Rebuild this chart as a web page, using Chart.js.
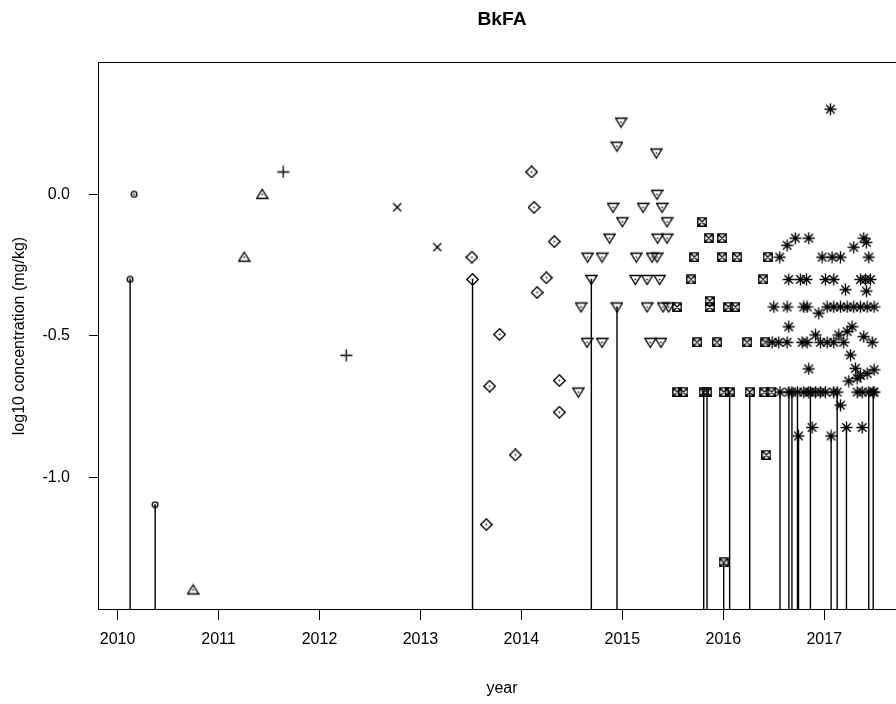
<!DOCTYPE html>
<html>
<head>
<meta charset="utf-8">
<script src="https://cdn.jsdelivr.net/npm/chart.js@4"></script>
<style>
html,body{margin:0;padding:0;overflow:hidden;background:#fff;}
canvas{display:block;}
</style>
</head>
<body>
<canvas id="c" width="920" height="704"></canvas>
<script>
// ---------- DATA ----------
const chartTitle = "BkFA";
const xTitle = "year";
const yTitle = "log10 concentration (mg/kg)";
const xTickValues = [2010, 2011, 2012, 2013, 2014, 2015, 2016, 2017];
const yTickValues = [-1.0, -0.5, 0.0];
const xLimits = [2009.816, 2017.80];
const yLimits = [-1.469, 0.4675];

// group 1: open circle
const circleYears = [2010.124, 2010.164, 2010.372];
const circleVals  = [-0.301, 0.0, -1.097];
const circleCens  = [1, 0, 1];

// group 2: triangle up
const triUpYears = [2010.748, 2011.254, 2011.432];
const triUpVals  = [-1.398, -0.222, 0.0];
const triUpCens  = [0, 0, 0];

// group 3: plus
const plusYears = [2011.640, 2012.265];
const plusVals  = [0.079, -0.569];
const plusCens  = [0, 0];

// group 4: cross
const crossYears = [2012.770, 2013.167];
const crossVals  = [-0.046, -0.187];
const crossCens  = [0, 0];

// group 5: diamond
const diamondYears = [2013.510, 2013.516, 2013.784, 2013.685, 2013.940, 2013.652, 2014.101, 2014.125, 2014.326, 2014.247, 2014.155, 2014.376, 2014.376];
const diamondVals  = [-0.222, -0.301, -0.495, -0.678, -0.921, -1.167, 0.079, -0.046, -0.167, -0.295, -0.347, -0.658, -0.770];
const diamondCens  = [0, 1, 0, 0, 0, 0, 0, 0, 0, 0, 0, 0, 0];

// group 6: triangle down
const triDownYears = [2014.987, 2014.947, 2015.337, 2015.344, 2014.908, 2015.205, 2015.393, 2015.000, 2015.443, 2014.874, 2015.350, 2015.443,
  2014.656, 2014.799, 2015.139, 2015.294, 2015.344, 2014.693, 2015.129, 2015.245, 2015.370, 2014.591, 2014.947, 2015.245, 2015.403, 2015.459,
  2014.650, 2014.799, 2015.277, 2015.383, 2014.564];
const triDownVals  = [0.255, 0.17, 0.146, 0.0, -0.046, -0.046, -0.046, -0.097, -0.097, -0.155, -0.155, -0.155,
  -0.222, -0.222, -0.222, -0.222, -0.222, -0.301, -0.301, -0.301, -0.301, -0.398, -0.398, -0.398, -0.398, -0.398,
  -0.523, -0.523, -0.523, -0.523, -0.699];
const triDownCens  = [0, 0, 0, 0, 0, 0, 0, 0, 0, 0, 0, 0,
  0, 0, 0, 0, 0, 1, 0, 0, 0, 0, 1, 0, 0, 0,
  0, 0, 0, 0, 0];

// group 7: boxed cross
const boxYears = [2015.542, 2015.790, 2015.855, 2015.988, 2015.714, 2015.988, 2016.137, 2016.440, 2015.681, 2016.394,
  2015.865, 2015.865, 2016.050, 2016.120, 2015.740, 2015.938, 2016.236, 2016.417,
  2015.545, 2015.605, 2015.806, 2015.839, 2016.004, 2016.063, 2016.262, 2016.407, 2016.477, 2016.427, 2016.004];
const boxVals  = [-0.398, -0.097, -0.155, -0.155, -0.222, -0.222, -0.222, -0.222, -0.301, -0.301,
  -0.377, -0.398, -0.398, -0.398, -0.523, -0.523, -0.523, -0.523,
  -0.699, -0.699, -0.699, -0.699, -0.699, -0.699, -0.699, -0.699, -0.699, -0.921, -1.301];
const boxCens  = [0, 0, 0, 0, 0, 0, 0, 0, 0, 0,
  0, 0, 0, 0, 0, 0, 0, 0,
  0, 0, 1, 1, 0, 1, 1, 0, 0, 0, 1];

// group 8: asterisk
const starYears = [2017.061, 2016.632, 2016.714, 2016.846, 2017.292, 2017.391, 2017.418,
  2016.559, 2016.979, 2017.078, 2017.161, 2017.441,
  2016.648, 2016.764, 2016.824, 2017.012, 2017.094, 2017.359, 2017.408, 2017.458,
  2017.210, 2017.418,
  2016.500, 2016.632, 2016.797, 2016.830, 2017.029, 2017.094, 2017.161, 2017.227, 2017.292, 2017.359, 2017.425, 2017.494, 2016.946,
  2016.648, 2017.276,
  2016.484, 2016.549, 2016.632, 2016.781, 2016.830, 2016.962, 2017.029, 2017.094, 2017.193, 2017.475, 2016.913, 2017.144, 2017.391, 2017.227,
  2017.260, 2016.846, 2017.309, 2017.494, 2017.243, 2017.326, 2017.359, 2017.425,
  2016.797, 2016.846, 2016.913, 2016.962, 2017.012, 2017.094, 2017.326, 2017.376, 2017.494,
  2016.562, 2016.650, 2016.680, 2016.735, 2016.863, 2017.128, 2017.441, 2017.485,
  2016.745, 2017.068, 2017.220, 2016.880, 2017.376, 2017.161];
const starVals  = [0.301, -0.18, -0.155, -0.155, -0.187, -0.155, -0.17,
  -0.222, -0.222, -0.222, -0.222, -0.222,
  -0.301, -0.301, -0.301, -0.301, -0.301, -0.301, -0.301, -0.301,
  -0.337, -0.342,
  -0.398, -0.398, -0.398, -0.398, -0.398, -0.398, -0.398, -0.398, -0.398, -0.398, -0.398, -0.398, -0.42,
  -0.468, -0.468,
  -0.523, -0.523, -0.523, -0.523, -0.523, -0.523, -0.523, -0.523, -0.523, -0.523, -0.497, -0.497, -0.503, -0.485,
  -0.568, -0.617, -0.615, -0.62, -0.66, -0.65, -0.64, -0.633,
  -0.699, -0.699, -0.699, -0.699, -0.699, -0.699, -0.699, -0.699, -0.699,
  -0.699, -0.699, -0.699, -0.699, -0.699, -0.699, -0.699, -0.699,
  -0.854, -0.854, -0.824, -0.824, -0.824, -0.745];
const starCens  = [0, 0, 0, 0, 0, 0, 0,
  0, 0, 0, 0, 0,
  0, 0, 0, 0, 0, 0, 0, 0,
  0, 0,
  0, 0, 0, 0, 0, 0, 0, 0, 0, 0, 0, 0, 0,
  0, 0,
  0, 0, 0, 0, 0, 0, 0, 0, 0, 0, 0, 0, 0, 0,
  0, 0, 0, 0, 0, 0, 0, 0,
  0, 0, 0, 0, 0, 0, 0, 0, 0,
  1, 1, 1, 1, 1, 1, 1, 1,
  1, 1, 1, 0, 0, 0];

// ---------- symbols ----------
function makeSymbol(kind, s) {
  const c = document.createElement('canvas');
  c.width = s; c.height = s;
  const g = c.getContext('2d');
  g.strokeStyle = '#000'; g.fillStyle = '#000'; g.lineWidth = 1.35;
  const m = s / 2;
  g.beginPath();
  if (kind === 'circle') {
    g.arc(m, m, m - 1.2, 0, 2 * Math.PI);
  } else if (kind === 'triUp') {
    g.moveTo(m, 1.5); g.lineTo(s - 1, s - 2.5); g.lineTo(1, s - 2.5); g.closePath();
  } else if (kind === 'triDown') {
    g.moveTo(1, 2.5); g.lineTo(s - 1, 2.5); g.lineTo(m, s - 1.5); g.closePath();
  } else if (kind === 'plus') {
    g.moveTo(m, 0.5); g.lineTo(m, s - 0.5); g.moveTo(0.5, m); g.lineTo(s - 0.5, m);
  } else if (kind === 'cross') {
    g.moveTo(1, 1); g.lineTo(s - 1, s - 1); g.moveTo(s - 1, 1); g.lineTo(1, s - 1);
  } else if (kind === 'diamond') {
    g.moveTo(m, 0.8); g.lineTo(s - 0.8, m); g.lineTo(m, s - 0.8); g.lineTo(0.8, m); g.closePath();
  } else if (kind === 'box') {
    g.rect(0.8, 0.8, s - 1.6, s - 1.6);
    g.moveTo(0.8, 0.8); g.lineTo(s - 0.8, s - 0.8); g.moveTo(s - 0.8, 0.8); g.lineTo(0.8, s - 0.8);
  } else if (kind === 'star') {
    const d = (m - 0.5) / Math.SQRT2;
    g.moveTo(m, 0.5); g.lineTo(m, s - 0.5); g.moveTo(0.5, m); g.lineTo(s - 0.5, m);
    g.moveTo(m - d, m - d); g.lineTo(m + d, m + d); g.moveTo(m + d, m - d); g.lineTo(m - d, m + d);
  }
  g.stroke();
  if (kind !== 'plus' && kind !== 'star' && kind !== 'cross' && kind !== 'box') {
    g.fillRect(m - 0.75, m - 0.75, 1.5, 1.5);
  }
  return c;
}

const groups = [
  {kind: 'circle',  size: 8,  years: circleYears,  vals: circleVals,  cens: circleCens},
  {kind: 'triUp',   size: 13, years: triUpYears,   vals: triUpVals,   cens: triUpCens},
  {kind: 'plus',    size: 13, years: plusYears,    vals: plusVals,    cens: plusCens},
  {kind: 'cross',   size: 10, years: crossYears,   vals: crossVals,   cens: crossCens},
  {kind: 'diamond', size: 13, years: diamondYears, vals: diamondVals, cens: diamondCens},
  {kind: 'triDown', size: 13, years: triDownYears, vals: triDownVals, cens: triDownCens},
  {kind: 'box',     size: 10, years: boxYears,     vals: boxVals,     cens: boxCens},
  {kind: 'star',    size: 13, years: starYears,    vals: starVals,    cens: starCens}
];

const datasets = groups.map(gr => ({
  type: 'scatter',
  data: gr.years.map((x, i) => ({x: x, y: gr.vals[i]})),
  pointStyle: makeSymbol(gr.kind, gr.size),
  pointRadius: gr.size / 2,
  order: 1
}));

// censored values: vertical lines from the bottom of the plot up to the value
const censSegments = [];
groups.forEach(gr => gr.years.forEach((x, i) => {
  if (gr.cens[i]) {
    censSegments.push({x: x, y: yLimits[0]}, {x: x, y: gr.vals[i]}, {x: x, y: null});
  }
}));
datasets.push({
  type: 'line',
  data: censSegments,
  borderColor: '#000',
  borderWidth: 1.4,
  pointRadius: 0,
  spanGaps: false,
  fill: false,
  order: 2
});

const framePlugin = {
  id: 'frame',
  afterDraw(chart) {
    const a = chart.chartArea, ctx = chart.ctx;
    ctx.save();
    ctx.strokeStyle = '#000';
    ctx.lineWidth = 1;
    ctx.strokeRect(Math.round(a.left) - 0.5, Math.round(a.top) + 0.5,
                   Math.round(a.right) - Math.round(a.left) + 1, Math.round(a.bottom) - Math.round(a.top) - 1);
    ctx.restore();
  }
};

const FONT = '"Liberation Sans", Arial, sans-serif';

new Chart(document.getElementById('c'), {
  type: 'scatter',
  data: {datasets: datasets},
  plugins: [framePlugin],
  options: {
    responsive: false,
    animation: false,
    devicePixelRatio: 1,
    layout: {padding: {left: 0, right: 15, top: 0, bottom: 0}},
    plugins: {
      legend: {display: false},
      tooltip: {enabled: false},
      title: {
        display: true,
        text: chartTitle,
        fullSize: false,
        color: '#000',
        font: {family: FONT, size: 19.2, weight: 'bold'},
        padding: {top: 8, bottom: 31}
      }
    },
    scales: {
      x: {
        type: 'linear',
        min: xLimits[0], max: xLimits[1],
        afterBuildTicks: s => { s.ticks = xTickValues.map(v => ({value: v})); },
        afterFit: s => { s.height = 94; },
        grid: {display: true, drawOnChartArea: false, drawTicks: true, tickLength: 10, color: '#000', lineWidth: 1},
        border: {display: false},
        ticks: {
          autoSkip: false, maxRotation: 0, minRotation: 0, padding: 10,
          color: '#000', font: {family: FONT, size: 16},
          callback: v => String(v)
        },
        title: {display: true, text: xTitle, color: '#000', font: {family: FONT, size: 16}, padding: {top: 0, bottom: 5.5}}
      },
      y: {
        type: 'linear',
        min: yLimits[0], max: yLimits[1],
        afterBuildTicks: s => { s.ticks = yTickValues.map(v => ({value: v})); },
        afterFit: s => { s.width = 99; },
        grid: {display: true, drawOnChartArea: false, drawTicks: true, tickLength: 10, color: '#000', lineWidth: 1},
        border: {display: false},
        ticks: {
          autoSkip: false, padding: 19,
          color: '#000', font: {family: FONT, size: 16},
          callback: v => Number(v).toFixed(1)
        },
        title: {display: true, text: yTitle, color: '#000', font: {family: FONT, size: 16}, padding: {top: 10.4, bottom: 0}}
      }
    }
  }
});
</script>
</body>
</html>
